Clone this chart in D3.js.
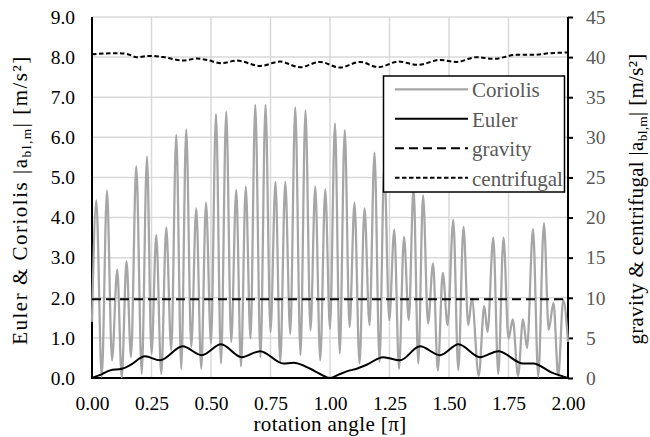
<!DOCTYPE html>
<html lang="en">
<head>
<meta charset="UTF-8">
<script src="https://cdnjs.cloudflare.com/ajax/libs/d3/7.8.5/d3.min.js"></script>
<title>accelerations</title>
<style>
  body { margin: 0; background: #fff; }
  svg { display: block; }
</style>
</head>
<body>
<div id="chart"></div>
<script>
// rotation angle [pi] and magnitudes (peaks and troughs)
const coriolisT = [0, 0.018, 0.041, 0.063, 0.084, 0.106, 0.125, 0.145, 0.164, 0.186, 0.209, 0.231, 0.250, 0.270, 0.291,
  0.312, 0.333, 0.354, 0.375, 0.396, 0.417, 0.438, 0.459, 0.479, 0.500, 0.521, 0.542, 0.564, 0.585, 0.606, 0.626,
  0.646, 0.666, 0.686, 0.708, 0.729, 0.750, 0.771, 0.791, 0.812, 0.833, 0.854, 0.876, 0.897, 0.918, 0.938, 0.959,
  0.980, 1.000, 1.021, 1.041, 1.062, 1.082, 1.103, 1.124, 1.145, 1.166, 1.187, 1.208, 1.228, 1.249, 1.270, 1.290,
  1.311, 1.331, 1.351, 1.371, 1.391, 1.412, 1.433, 1.453, 1.474, 1.494, 1.518, 1.539, 1.561, 1.581, 1.596, 1.625,
  1.648, 1.662, 1.686, 1.707, 1.729, 1.750, 1.768, 1.790, 1.811, 1.828, 1.853, 1.875, 1.899, 1.919, 1.939, 1.959,
  1.980, 2.000];
const coriolisV = [1.40, 4.43, 0.03, 4.67, 0.44, 2.70, 0.02, 2.91, 0.52, 5.28, 0.10, 5.52, 0.60, 3.56, 0.10,
  3.75, 0.69, 6.06, 0.23, 6.20, 0.77, 4.23, 0.23, 4.37, 0.86, 6.58, 0.36, 6.64, 0.90, 4.69, 0.29,
  4.77, 0.98, 6.81, 0.52, 6.81, 1.15, 4.89, 0.40, 4.89, 1.10, 6.75, 0.57, 6.67, 1.19, 4.77, 0.44,
  4.70, 1.23, 6.35, 0.61, 6.18, 1.27, 4.37, 0.36, 4.23, 1.32, 5.62, 0.40, 5.30, 1.44, 3.70, 0.23,
  3.52, 1.44, 4.75, 0.36, 4.55, 1.36, 2.86, 0.19, 2.62, 1.32, 3.94, 0.20, 3.77, 1.32, 1.97, 0.05,
  1.79, 1.15, 3.50, 0.10, 3.50, 0.98, 1.46, 0.05, 1.46, 0.75, 3.71, 0.03, 3.86, 1.20, 1.87, 0.05,
  1.95, 0.90];

const eulerT = [0, 0.04, 0.076, 0.125, 0.16, 0.223, 0.286, 0.381, 0.461, 0.542, 0.629, 0.706, 0.804, 0.846, 0.917, 0.958,
  1.0, 1.042, 1.084, 1.112, 1.154, 1.224, 1.294, 1.378, 1.462, 1.54, 1.63, 1.707, 1.812, 1.854, 1.93, 2.0];
const eulerV = [0, 0.09, 0.19, 0.23, 0.32, 0.54, 0.44, 0.79, 0.57, 0.84, 0.52, 0.67, 0.36, 0.38, 0.23, 0.10,
  0, 0.10, 0.19, 0.23, 0.33, 0.52, 0.44, 0.79, 0.57, 0.84, 0.52, 0.67, 0.36, 0.36, 0.14, 0];

const gravityT = [0, 2];
const gravityV = [9.81, 9.81];

const centrifugalT = [0, 0.104, 0.146, 0.188, 0.244, 0.3, 0.384, 0.44, 0.482, 0.545, 0.608, 0.706, 0.79, 0.874, 0.958,
  1.042, 1.126, 1.203, 1.287, 1.371, 1.462, 1.532, 1.616, 1.686, 1.784, 1.854, 1.924, 2.0];
const centrifugalV = [40.36, 40.49, 40.40, 39.99, 40.15, 40.00, 39.57, 39.82, 39.65, 39.24, 39.57, 38.90, 39.44, 38.74, 39.40,
  38.70, 39.40, 38.74, 39.44, 39.03, 39.65, 39.40, 39.99, 39.78, 40.28, 40.28, 40.49, 40.57];

const xTicks = [0, 0.25, 0.5, 0.75, 1, 1.25, 1.5, 1.75, 2];
const yLeftTicks = [0, 1, 2, 3, 4, 5, 6, 7, 8, 9];
const yRightTicks = [0, 5, 10, 15, 20, 25, 30, 35, 40, 45];

const width = 650, height = 437;
const m = { top: 17, right: 82, bottom: 59, left: 92 };
const iw = width - m.left - m.right, ih = height - m.top - m.bottom;
const FONT = "Liberation Serif";

const x = d3.scaleLinear().domain([0, 2]).range([0, iw]);
const yL = d3.scaleLinear().domain([0, 9]).range([ih, 0]);
const yR = d3.scaleLinear().domain([0, 45]).range([ih, 0]);

const svg = d3.select("#chart").append("svg")
  .attr("width", width).attr("height", height);
const g = svg.append("g").attr("transform", `translate(${m.left},${m.top})`);

// grid
g.selectAll(".hg").data(yLeftTicks.slice(1)).enter().append("line")
  .attr("x1", 0).attr("x2", iw).attr("y1", d => yL(d)).attr("y2", d => yL(d))
  .attr("stroke", "#d9d9d9").attr("stroke-width", 1.5);
g.selectAll(".vg").data(xTicks.slice(1, -1)).enter().append("line")
  .attr("x1", d => x(d)).attr("x2", d => x(d)).attr("y1", 0).attr("y2", ih)
  .attr("stroke", "#d9d9d9").attr("stroke-width", 1.5);

// axes
const xAxis = g.append("g").attr("transform", `translate(0,${ih})`)
  .call(d3.axisBottom(x).tickValues(xTicks).tickFormat(d3.format(".2f")).tickSize(0).tickPadding(18));
const leftAxis = g.append("g")
  .call(d3.axisLeft(yL).tickValues(yLeftTicks).tickFormat(d3.format(".1f")).tickSize(0).tickPadding(17));
const rightAxis = g.append("g").attr("transform", `translate(${iw},0)`)
  .call(d3.axisRight(yR).tickValues(yRightTicks).tickFormat(d3.format("d")).tickSize(5).tickPadding(13));

[xAxis, leftAxis, rightAxis].forEach(a => {
  a.select(".domain").remove();
  a.selectAll("text").attr("fill", "#000").attr("font-size", 19.5);
});
rightAxis.selectAll("text").attr("fill", "#595959");
rightAxis.selectAll("line").attr("stroke", "#000").attr("stroke-width", 2);

g.append("line").attr("x1", 0).attr("x2", 0).attr("y1", 0).attr("y2", ih).attr("stroke", "#000").attr("stroke-width", 2);
g.append("line").attr("x1", iw).attr("x2", iw).attr("y1", 0).attr("y2", ih).attr("stroke", "#000").attr("stroke-width", 2);
g.append("line").attr("x1", -1).attr("x2", iw + 1).attr("y1", ih).attr("y2", ih).attr("stroke", "#000").attr("stroke-width", 2);

// series
const lineL = d3.line().x(d => x(d[0])).y(d => yL(d[1])).curve(d3.curveMonotoneX);
const lineR = d3.line().x(d => x(d[0])).y(d => yR(d[1])).curve(d3.curveMonotoneX);

const series = [
  { name: "Coriolis", data: d3.zip(coriolisT, coriolisV), gen: lineL, color: "#a6a6a6", w: 2.25, dash: null },
  { name: "Euler", data: d3.zip(eulerT, eulerV), gen: lineL, color: "#000", w: 2, dash: null },
  { name: "gravity", data: d3.zip(gravityT, gravityV), gen: lineR, color: "#000", w: 2, dash: "9,5" },
  { name: "centrifugal", data: d3.zip(centrifugalT, centrifugalV), gen: lineR, color: "#000", w: 2, dash: "4.5,2.5" }
];

series.forEach(s => {
  g.append("path").datum(s.data).attr("d", s.gen)
    .attr("fill", "none").attr("stroke", s.color).attr("stroke-width", s.w)
    .attr("stroke-dasharray", s.dash);
});

// axis titles
svg.append("text").attr("x", 330).attr("y", 431).attr("text-anchor", "middle")
  .attr("font-size", 21).attr("letter-spacing", 0.4).text("rotation angle [π]");

function yTitle(xPos, yPos, lead, size, spacing) {
  const t = svg.append("text").attr("transform", `translate(${xPos},${yPos}) rotate(-90)`)
    .attr("text-anchor", "middle").attr("font-size", size).attr("letter-spacing", spacing);
  t.append("tspan").text(lead + "|a");
  t.append("tspan").attr("dy", 4).attr("font-size", size * 0.64).text("bl,m");
  t.append("tspan").attr("dy", -4).text("| [m/s²]");
}
yTitle(27, 200, "Euler & Coriolis ", 21, 1.5);
yTitle(643, 199, "gravity & centrifugal ", 21, 0.3);

// legend
const lg = svg.append("g").attr("transform", "translate(383.5,76)");
lg.append("rect").attr("width", 181).attr("height", 116)
  .attr("fill", "#fff").attr("stroke", "#000").attr("stroke-width", 1.5);
series.forEach((s, i) => {
  const yy = 13.3 + i * 29.5;
  lg.append("line").attr("x1", 11.5).attr("x2", 84.5).attr("y1", yy).attr("y2", yy)
    .attr("stroke", s.color).attr("stroke-width", s.w).attr("stroke-dasharray", s.dash);
  lg.append("text").attr("x", 88.5).attr("y", yy + 8).attr("fill", "#595959")
    .attr("font-size", 21).text(s.name);
});

// every text in the serif face
svg.selectAll("text").attr("font-family", FONT);
</script>
</body>
</html>
